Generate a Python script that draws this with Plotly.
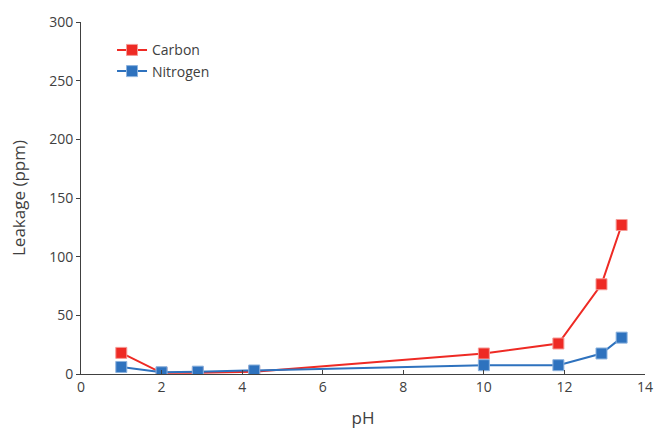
import plotly.graph_objects as go

ph_carbon = [1.0, 2.0, 2.9, 4.3, 10.0, 11.85, 12.92, 13.42]
carbon = [18, 1, 1, 2, 17.5, 26, 76.5, 127]
ph_nitrogen = [1.0, 2.0, 2.9, 4.3, 10.0, 11.85, 12.92, 13.42]
nitrogen = [6, 1.5, 2, 3, 7.5, 7.5, 17.5, 31]

fig = go.Figure()
fig.add_trace(go.Scatter(x=ph_carbon, y=carbon, name="Carbon", mode="lines+markers",
                         line=dict(color="#EE2A24", width=2),
                         marker=dict(symbol="square", size=11, color="#EE2A24",
                                     line=dict(color="#F59A96", width=1))))
fig.add_trace(go.Scatter(x=ph_nitrogen, y=nitrogen, name="Nitrogen", mode="lines+markers",
                         line=dict(color="#2E72BE", width=2),
                         marker=dict(symbol="square", size=11, color="#2E72BE",
                                     line=dict(color="#8DB3DE", width=1))))

font = dict(family="Open Sans, sans-serif", size=14, color="#404040")
fig.update_layout(
    width=654, height=429,
    margin=dict(l=81, r=9, t=22, b=55),
    paper_bgcolor="white", plot_bgcolor="white",
    font=font,
    showlegend=True,
    legend=dict(x=0.055, y=0.965, xanchor="left", yanchor="top",
                bgcolor="rgba(0,0,0,0)", font=dict(size=14, color="#404040"),
                tracegroupgap=0, itemwidth=30),
    xaxis=dict(range=[0, 14], dtick=2, showgrid=False, zeroline=False,
               showline=True, linecolor="#404040", linewidth=1,
               ticks="inside", ticklen=4, tickcolor="#404040",
               automargin=False, ticklabeloverflow="allow",
               title=dict(text="pH", standoff=21),
               tickfont=dict(size=14, color="#404040")),
    yaxis=dict(range=[0, 300], dtick=50, showgrid=False, zeroline=False,
               showline=True, linecolor="#404040", linewidth=1,
               ticks="outside", ticklen=4, tickcolor="#404040",
               automargin=False,
               title=dict(text="Leakage (ppm)", standoff=19),
               tickfont=dict(size=14, color="#404040")),
)
fig.write_html(
    "out.html",
    config={"displayModeBar": False},
    post_script="document.body.style.margin='0';document.body.style.overflow='hidden';",
)
